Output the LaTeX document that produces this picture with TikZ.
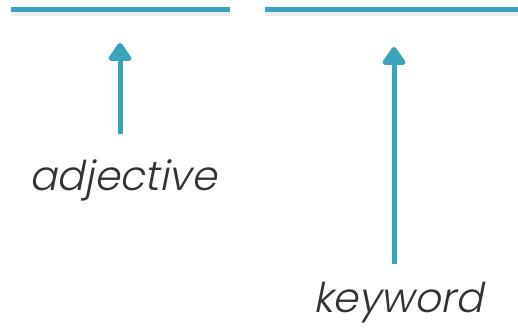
\documentclass[tikz,border=0pt]{standalone}
\usepackage{fontspec}
\usepackage{tikz}
\usetikzlibrary{positioning,arrows.meta,calc}
\newfontfamily\wordfont{Poppins Light}[FakeSlant=0.2]
\definecolor{barteal}{RGB}{58,164,188}
\definecolor{wordgray}{RGB}{51,51,51}
\tikzstyle{bar} = [line width=5pt, draw=barteal]
\tikzstyle{shade} = [line width=7pt, draw=black, opacity=0.07]
\tikzstyle{pointer} = [line width=5pt, draw=barteal, fill=barteal, -{Triangle[width=26pt,length=20pt,round]}, shorten <=18pt]
\tikzstyle{word} = [text=wordgray, font=\wordfont\fontsize{41}{48}\selectfont, inner sep=0pt]

\begin{document}
\begin{tikzpicture}[x=1pt, y=-1pt]
        \useasboundingbox (0,0) rectangle (518,332);
        % Bars -------------------------------------------------------------------------------------
        \coordinate (left_start) at (11,9.5);
        \coordinate (left_end) at (230,9.5);
        \coordinate (right_start) at (265,9.5);
        \coordinate (right_end) at (518,9.5);
        \draw[shade] ([yshift=-3pt]left_start) -- ([yshift=-3pt]left_end);
        \draw[shade] ([yshift=-3pt]right_start) -- ([yshift=-3pt]right_end);
        \draw[bar] (left_start) -- (left_end);
        \draw[bar] (right_start) -- (right_end);
        % Labels -----------------------------------------------------------------------------------
        \node[word](adjective) at (123,180){adjective};
        \node[word](keyword) at (398,303){keyword};
        % Arrows -----------------------------------------------------------------------------------
        \coordinate (adjective_tip) at (120,43);
        \coordinate (keyword_tip) at (394,47);
        \draw[pointer, shorten <=25pt] (adjective.north -| adjective_tip) -- (adjective_tip);
        \draw[pointer] (keyword.north -| keyword_tip) -- (keyword_tip);
    \end{tikzpicture}
\end{document}
